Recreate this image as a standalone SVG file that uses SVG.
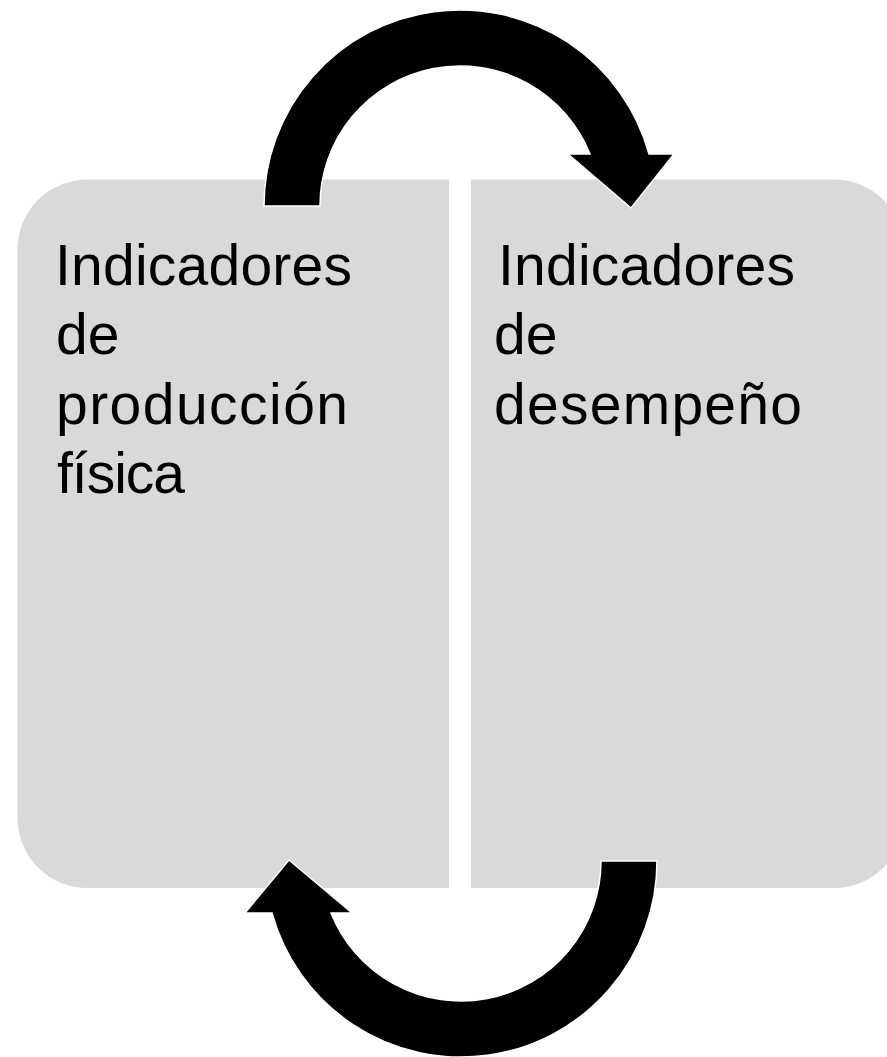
<svg xmlns="http://www.w3.org/2000/svg" width="887" height="1057" viewBox="0 0 887 1057">
  <style>
    .box { fill: #D9D9D9; stroke: none; }
    .lbl { font-family: "Liberation Sans", Arial, sans-serif; font-size: 57px; fill: #000000; }
    .arrow { fill: #000000; stroke: #FFFFFF; stroke-width: 1.5; stroke-linejoin: miter; }
  </style>
  <rect width="887" height="1057" fill="#FFFFFF"/>
  <g id="node-produccion">
    <path class="box" d="M 449,179.5 L 88,179.5 A 70,70 0 0 0 17.5,249.5 L 17.5,818 A 70,70 0 0 0 87.5,888 L 449,888 Z"/>
    <text class="lbl">
      <tspan x="55" y="285" textLength="297" lengthAdjust="spacing">Indicadores</tspan>
      <tspan x="56" y="354">de</tspan>
      <tspan x="56" y="424" textLength="292" lengthAdjust="spacing">producción</tspan>
      <tspan x="57" y="493" textLength="128" lengthAdjust="spacing">física</tspan>
    </text>
  </g>
  <g id="node-desempeno">
    <path class="box" d="M 471,179.5 L 834,179.5 A 70,70 0 0 1 904,249.5 L 904,818 A 70,70 0 0 1 834,888 L 471,888 Z"/>
    <text class="lbl">
      <tspan x="498" y="285" textLength="297" lengthAdjust="spacing">Indicadores</tspan>
      <tspan x="494" y="354">de</tspan>
      <tspan x="494" y="424" textLength="308" lengthAdjust="spacing">desempeño</tspan>
    </text>
  </g>
  <g id="connectors">
    <path id="arrow-top" class="arrow" d="M 264,206 A 196,196 0 0 1 649,154 L 674,154 L 631,208 L 568,154 L 590,154 A 140,140 0 0 0 320,206 Z"/>
    <path id="arrow-bottom" class="arrow" d="M 657,861 A 196,196 0 0 1 272,913 L 245,913 L 289,860 L 352,913 L 331,913 A 140,140 0 0 0 601,861 Z"/>
  </g>
</svg>
